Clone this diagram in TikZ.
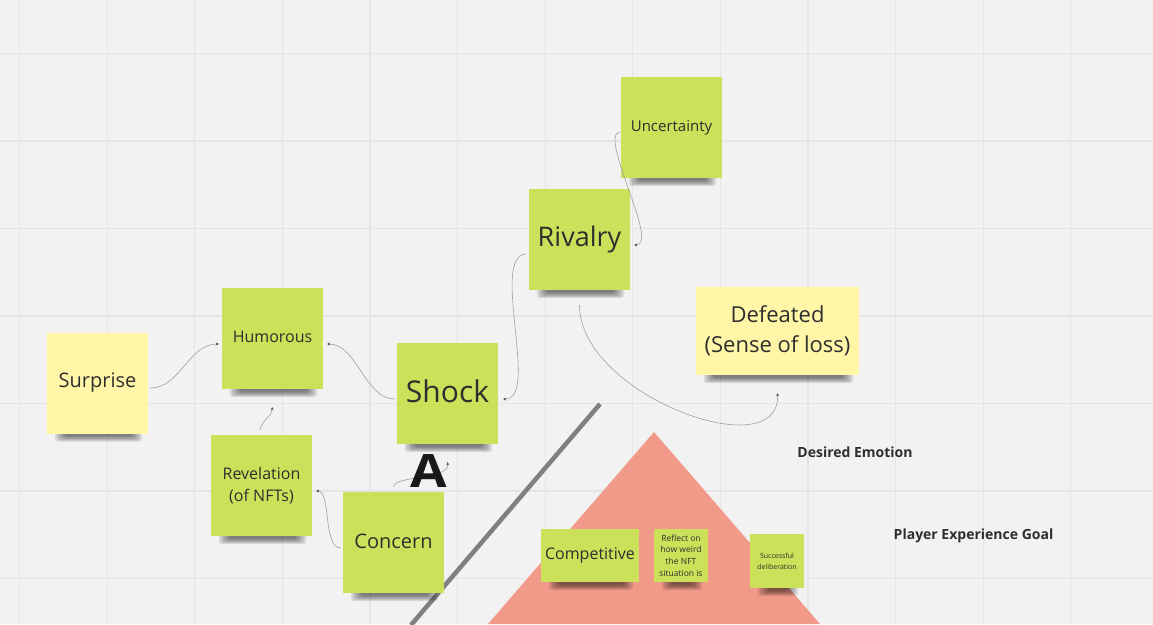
\documentclass[tikz,border=0pt]{standalone}
\usepackage{fontspec}
\setmainfont{Open Sans}
\usepackage{xcolor}
\usetikzlibrary{arrows.meta,calc}

\definecolor{boardbg}{HTML}{F2F2F2}
\definecolor{gridline}{HTML}{E5E5E5}
\definecolor{notegreen}{HTML}{CDE05A}
\definecolor{noteyellow}{HTML}{FFF6A8}
\definecolor{notetext}{HTML}{2E2E2E}
\definecolor{pyramid}{HTML}{F19A89}
\definecolor{divider}{HTML}{808080}
\definecolor{linkgray}{HTML}{A0A0A0}

\pgfdeclarelayer{board}
\pgfdeclarelayer{shade}
\pgfsetlayers{board,shade,main}

\begin{document}
\begin{tikzpicture}[x=1pt,y=-1pt]
            \tikzset{note/.style = {fill=notegreen, text=notetext, align=center, inner sep=0pt,
                minimum width=101pt, minimum height=101pt}}
            \tikzset{yellownote/.style = {note, fill=noteyellow}}
            \tikzset{edge/.style = {draw=linkgray, line width=0.6pt, -{Stealth[length=3pt,width=3pt,color=black!70]}}}
            \tikzset{caption/.style = {text=notetext, font=\bfseries\fontsize{14}{16}\selectfont}}

            % board
            \useasboundingbox (0,0) rectangle (1153,624);
            \clip (0,0) rectangle (1153,624);
            \begin{pgfonlayer}{board}
            \fill[boardbg] (0,0) rectangle (1153,624);
            \foreach \k in {0,...,13}
            {
              \draw[gridline, line width=1.2pt] ({19.5+87.6*\k},0) -- ({19.5+87.6*\k},624);
            }
            \foreach \k in {0,...,6}
            {
              \draw[gridline, line width=1.2pt] (0,{53.5+87.5*\k}) -- (1153,{53.5+87.5*\k});
            }

            % pyramid and divider
            \fill[pyramid] (654,432) -- (820,624) -- (488,624) -- cycle;
            \draw[divider, line width=4.5pt] (600,404) -- (411,625);
            \end{pgfonlayer}

            % vertices
            \node[yellownote, font=\fontsize{20}{24}\selectfont] (surprise) at (97.5,383) {Surprise};
            \node[note, font=\fontsize{16}{20}\selectfont] (humorous) at (272.5,338.5) {\raisebox{3pt}{Humorous}};
            \node[note, font=\fontsize{30}{34}\selectfont] (shock) at (447.5,393.5) {\raisebox{4pt}{Shock}};
            \node[note, font=\fontsize{16}{22}\selectfont] (revelation) at (261.5,485.5) {Revelation\\(of NFTs)};
            \node[note, font=\fontsize{20}{24}\selectfont] (concern) at (393.5,542.5) {\raisebox{2pt}{Concern}};
            \node[note, font=\fontsize{27}{30}\selectfont] (rivalry) at (579.5,239.5) {\raisebox{2pt}{Rivalry}};
            \node[note, font=\fontsize{15}{18}\selectfont] (uncertainty) at (671.5,127.5) {\raisebox{2pt}{Uncertainty}};
            \node[yellownote, minimum width=163pt, minimum height=88pt,
                  font=\fontsize{22}{30}\selectfont] (defeated) at (777.5,331) {Defeated\\(Sense of loss)};
            \node[note, minimum width=98pt, minimum height=53pt,
                  font=\fontsize{16}{20}\selectfont] (competitive) at (590,555.5) {\raisebox{1pt}{Competitive}};
            \node[note, minimum width=54pt, minimum height=53pt,
                  font=\fontsize{8.5}{11.7}\selectfont] (reflect) at (681,555.5) {Reflect on\\how weird\\the NFT\\situation is};
            \node[note, minimum width=54pt, minimum height=54pt,
                  font=\fontsize{7}{11}\selectfont] (deliberation) at (777,561) {Successful\\deliberation};

            % shadows under the notes
            \begin{pgfonlayer}{shade}
            \foreach \n in {surprise,humorous,shock,revelation,concern,rivalry,uncertainty,defeated,competitive,reflect,deliberation}
            {
              \foreach \i in {0,...,5}
              {
                \fill[black, fill opacity=0.1, rounded corners=3pt]
                  ($(\n.south west)+({18-2*\i},-12)$) rectangle ($(\n.south east)+({-16+2*\i},{2.5+1.1*\i})$);
              }
            }
            \end{pgfonlayer}

            % edges
            \draw[edge] ([xshift=2pt,yshift=-5pt]surprise.east) .. controls +(30,0) and +(-30,0) .. ([xshift=-3pt,yshift=-5.5pt]humorous.west);
            \draw[edge] ([xshift=-2pt,yshift=-5.5pt]shock.west) .. controls +(-30,0) and +(30,0) .. ([xshift=4pt,yshift=-5.5pt]humorous.east);
            \draw[edge] ([xshift=-1.5pt,yshift=5pt]revelation.north) .. controls +(3,-12) and +(-2,12) .. ([yshift=-18pt]humorous.south);
            \draw[edge] ([xshift=-2pt,yshift=-5.5pt]concern.west) .. controls +(-18,0) and +(15,0) .. ([xshift=4pt,yshift=-5.5pt]revelation.east);
            \draw[edge] ([yshift=5pt]concern.north) .. controls +(2,-12) and +(2,18) .. ([yshift=-18pt]shock.south);
            \draw[edge] ([xshift=-3pt,yshift=-14.5pt]rivalry.west) .. controls +(-36,2) and +(37,1) .. ([xshift=5pt,yshift=-5.5pt]shock.east);
            \draw[edge] ([xshift=-1pt,yshift=-4.5pt]uncertainty.west) .. controls +(-22,3) and +(26,0) .. ([xshift=4pt,yshift=-5.5pt]rivalry.east);
            \draw[edge] ([yshift=-15pt]rivalry.south) .. controls +(0,90) and +(3,75) .. ([yshift=-18pt]defeated.south);

            % labels
            \node[text=black!90, font=\bfseries\fontsize{46}{50}\selectfont, inner sep=0pt] (mark) at (428.5,471) {\scalebox{1.15}[1]{A}};
            \node[caption] (emotion) at (855,452) {Desired Emotion};
            \node[caption] (goal) at (973.5,535.5) {Player Experience Goal};

          \end{tikzpicture}
\end{document}
